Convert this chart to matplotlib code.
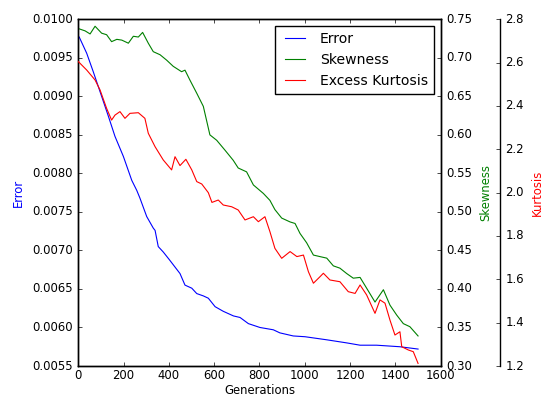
import matplotlib
matplotlib.use("Agg")
import matplotlib.pyplot as plt
from matplotlib.ticker import FormatStrFormatter, MultipleLocator

# data
ERR_GEN = [0, 4, 37, 66, 103, 133, 162, 199, 236, 258, 272, 302, 331, 339, 353, 375, 402,
           449, 471, 501, 523, 552, 574, 604, 640, 685, 714, 751, 802, 861, 890, 949, 1001,
           1097, 1185, 1244, 1317, 1420, 1500]
ERR = [0.00978, 0.00977, 0.00956, 0.00932, 0.00900, 0.00874, 0.00848, 0.00822, 0.00791,
       0.00778, 0.00768, 0.00744, 0.00729, 0.00726, 0.00705, 0.00698, 0.00688, 0.00670,
       0.00655, 0.00651, 0.00644, 0.00641, 0.00638, 0.00627, 0.00621, 0.00615, 0.00613,
       0.00605, 0.00600, 0.00597, 0.00593, 0.00589, 0.00588, 0.00584, 0.00580, 0.00577,
       0.00577, 0.00575, 0.00572]

SKEW_GEN = [0, 30, 52, 74, 103, 125, 147, 170, 192, 221, 243, 265, 284, 309, 331, 361, 390,
            419, 456, 471, 493, 523, 552, 581, 611, 648, 684, 706, 743, 773, 817, 846, 868,
            898, 935, 957, 979, 1008, 1038, 1067, 1097, 1126, 1155, 1185, 1214, 1244, 1273,
            1310, 1347, 1376, 1406, 1435, 1464, 1500]
SKEW = [0.738, 0.735, 0.731, 0.741, 0.732, 0.730, 0.721, 0.724, 0.723, 0.719, 0.728, 0.727,
        0.733, 0.719, 0.708, 0.704, 0.697, 0.689, 0.682, 0.684, 0.671, 0.654, 0.637, 0.600,
        0.593, 0.580, 0.567, 0.557, 0.552, 0.535, 0.524, 0.515, 0.503, 0.492, 0.487, 0.485,
        0.472, 0.460, 0.444, 0.442, 0.440, 0.430, 0.427, 0.420, 0.414, 0.415, 0.401, 0.383,
        0.399, 0.379, 0.366, 0.355, 0.351, 0.339]

KURT_GEN = [0, 37, 74, 96, 125, 147, 162, 184, 206, 228, 265, 294, 309, 339, 375, 412, 427,
            449, 475, 501, 523, 545, 574, 590, 618, 640, 677, 706, 736, 773, 795, 824, 846,
            868, 898, 935, 965, 994, 1016, 1038, 1067, 1082, 1111, 1155, 1192, 1222, 1244,
            1273, 1310, 1332, 1354, 1376, 1398, 1420, 1428, 1457, 1479, 1500]
KURT = [2.605, 2.566, 2.520, 2.474, 2.389, 2.335, 2.358, 2.374, 2.343, 2.366, 2.369, 2.343,
        2.274, 2.212, 2.151, 2.105, 2.166, 2.125, 2.154, 2.105, 2.051, 2.040, 2.000, 1.955,
        1.966, 1.943, 1.935, 1.920, 1.874, 1.889, 1.866, 1.889, 1.820, 1.743, 1.697, 1.728,
        1.705, 1.712, 1.635, 1.582, 1.612, 1.628, 1.597, 1.589, 1.543, 1.535, 1.574, 1.528,
        1.443, 1.505, 1.490, 1.412, 1.343, 1.358, 1.289, 1.274, 1.266, 1.212]

plt.style.use("classic")
plt.rcParams["font.size"] = 8.4
plt.rcParams["xtick.major.size"] = 3
plt.rcParams["ytick.major.size"] = 3
plt.rcParams["xtick.minor.size"] = 1.5
plt.rcParams["ytick.minor.size"] = 1.5
plt.rcParams["xtick.major.pad"] = 2.5

fig = plt.figure(figsize=(5.43, 3.99), dpi=100)
ax = fig.add_axes([0.1442, 0.0827, 0.6674, 0.8689])
ax2 = ax.twinx()
ax3 = ax.twinx()

# third axis pushed out to the right, only its right spine shown
ax3.spines["right"].set_position(("axes", 1.163))
ax3.set_frame_on(True)
ax3.patch.set_visible(False)
for sp in ax3.spines.values():
    sp.set_visible(False)
ax3.spines["right"].set_visible(True)

l1, = ax.plot(ERR_GEN, ERR, color="b", lw=0.8, label="Error")
l2, = ax2.plot(SKEW_GEN, SKEW, color="g", lw=0.8, label="Skewness")
l3, = ax3.plot(KURT_GEN, KURT, color="r", lw=0.8, label="Excess Kurtosis")

ax.set_xlim(0, 1600)
ax.set_ylim(0.0055, 0.0100)
ax2.set_ylim(0.30, 0.75)
ax3.set_ylim(1.2, 2.8)
ax.xaxis.set_major_locator(MultipleLocator(200))
ax.yaxis.set_major_locator(MultipleLocator(0.0005))
ax2.yaxis.set_major_locator(MultipleLocator(0.05))
ax3.yaxis.set_major_locator(MultipleLocator(0.2))
ax.yaxis.set_major_formatter(FormatStrFormatter("%.4f"))
ax2.yaxis.set_major_formatter(FormatStrFormatter("%.2f"))
ax3.yaxis.set_major_formatter(FormatStrFormatter("%.1f"))

ax.set_xlabel("Generations", labelpad=1)
ax.set_ylabel("Error", color="b")
ax2.set_ylabel("Skewness", color="g")
ax3.set_ylabel("Kurtosis", color="r")

ax.legend([l1, l2, l3], ["Error", "Skewness", "Excess Kurtosis"], loc="upper right")

fig.savefig("out.png", dpi=100)
